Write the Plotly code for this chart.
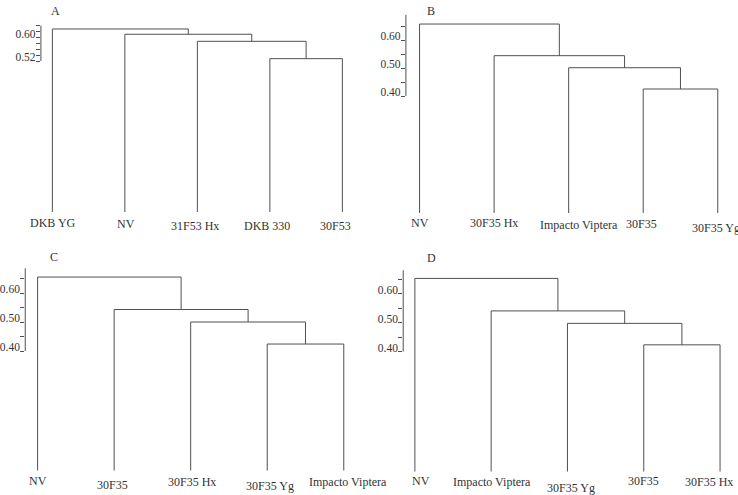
import plotly.graph_objects as go

W, H = 738, 495

# ---------------- data ----------------
leaves_A = ["DKB YG", "NV", "31F53 Hx", "DKB 330", "30F53"]
heights_A = [0.629, 0.611, 0.587, 0.528]          # merge heights, top merge first
leaves_B = ["NV", "30F35 Hx", "Impacto Viptera", "30F35", "30F35 Yg"]
heights_B = [0.657, 0.544, 0.501, 0.425]
leaves_C = ["NV", "30F35", "30F35 Hx", "30F35 Yg", "Impacto Viptera"]
heights_C = [0.655, 0.543, 0.500, 0.424]
leaves_D = ["NV", "Impacto Viptera", "30F35 Yg", "30F35", "30F35 Hx"]
heights_D = [0.652, 0.540, 0.497, 0.423]

# tree structure (scipy-like linkage, bottom-up): children ids; leaves 0..4, nodes 5..8
linkage_pairs = [(3, 4), (2, 5), (1, 6), (0, 7)]

tickvals_A = [0.52, 0.54, 0.56, 0.58, 0.60, 0.62, 0.64]
ticktext_A = ["0.52", "", "", "", "0.60", "", ""]
tickvals_BCD = [0.40, 0.45, 0.50, 0.55, 0.60, 0.65]
ticktext_BCD = ["0.40", "", "0.50", "", "0.60", ""]

panel_letters = ["A", "B", "C", "D"]

# ---------------- style / layout geometry (pixels) ----------------
LINE = "#505050"
TXT = "#333333"
FONT = "Liberation Serif, Times New Roman, serif"

panels = [
    dict(name="A", leaves=leaves_A, heights=heights_A, tv=tickvals_A, tt=ticktext_A,
         axis_px=39, leaf0=50.5, sp=72.7, right=365, p0=213.9, s=294, bottom=212,
         axis_span=(0.52, 0.64), letter=(53.3, 11),
         dx=[0.5, 1, -2, -2.6, -7.3], ly=[223.3, 224.3, 226, 225.7, 225.7]),
    dict(name="B", leaves=leaves_B, heights=heights_B, tv=tickvals_BCD, tt=ticktext_BCD,
         axis_px=405, leaf0=418.7, sp=74.75, right=737, p0=208, s=280, bottom=213,
         axis_span=(0.40, 0.69), letter=(430, 11),
         dx=[0, 0, 10.5, -1.3, -1.7], ly=[223.3, 223.3, 224.7, 223.7, 227.7]),
    dict(name="C", leaves=leaves_C, heights=heights_C, tv=tickvals_BCD, tt=ticktext_BCD,
         axis_px=23.3, leaf0=35.7, sp=76.75, right=365, p0=467, s=290, bottom=470.7,
         axis_span=(0.40, 0.685), letter=(52.3, 257.3),
         dx=[0, -2, 1.3, 3, 4.3], ly=[481, 485, 481.7, 486, 481.7]),
    dict(name="D", leaves=leaves_D, heights=heights_D, tv=tickvals_BCD, tt=ticktext_BCD,
         axis_px=402.3, leaf0=414, sp=76.5, right=737, p0=467.5, s=290, bottom=471.7,
         axis_span=(0.40, 0.68), letter=(430.7, 257.7),
         dx=[6, 1, 3.5, -0.7, -10.8], ly=[481, 481.7, 488.3, 481, 481.7]),
]

fig = go.Figure()
annotations = []
shapes = []
layout_axes = {}

for k, p in enumerate(panels):
    idx = "" if k == 0 else str(k + 1)
    xa, ya = "x" + idx, "y" + idx
    ymin = (p["p0"] - p["bottom"]) / p["s"]
    ymax = 0.70
    top_px = p["p0"] - p["s"] * ymax

    # dendrogram geometry from linkage
    n = len(p["leaves"])
    xs = {i: float(i) for i in range(n)}
    ys = {i: ymin for i in range(n)}
    hs_bottom_up = list(reversed(p["heights"]))
    lx, ly = [], []
    for m, (a, b) in enumerate(linkage_pairs):
        h = hs_bottom_up[m]
        lx += [xs[a], xs[a], xs[b], xs[b], None]
        ly += [ys[a], h, h, ys[b], None]
        node = n + m
        xs[node] = (xs[a] + xs[b]) / 2
        ys[node] = h

    fig.add_trace(go.Scatter(x=lx, y=ly, mode="lines", xaxis=xa, yaxis=ya,
                             line=dict(color=LINE, width=1), hoverinfo="skip",
                             showlegend=False, cliponaxis=False))

    xmin = (p["axis_px"] - p["leaf0"]) / p["sp"]
    xmax = (p["right"] - p["leaf0"]) / p["sp"]
    layout_axes["xaxis" + idx] = dict(
        domain=[p["axis_px"] / W, p["right"] / W], range=[xmin, xmax],
        visible=False, anchor=ya, fixedrange=True)
    layout_axes["yaxis" + idx] = dict(
        domain=[1 - p["bottom"] / H, 1 - top_px / H], range=[ymin, ymax],
        anchor=xa, showgrid=False, zeroline=False, showline=False,
        ticks="outside", ticklen=4, tickwidth=1, tickcolor=LINE,
        tickvals=p["tv"], ticktext=p["tt"], ticklabelshift=-4, ticklabelstandoff=-2,
        tickfont=dict(family=FONT, size=11.5, color=TXT), fixedrange=True)

    shapes.append(dict(type="line", xref=xa + " domain", yref=ya, x0=0, x1=0,
                       y0=p["axis_span"][0], y1=p["axis_span"][1],
                       line=dict(color=LINE, width=1)))

    for i, lab in enumerate(p["leaves"]):
        annotations.append(dict(text=lab, xref=xa, yref="paper", x=i, xshift=p["dx"][i],
                                y=1 - p["ly"][i] / H, xanchor="center", yanchor="middle",
                                showarrow=False, font=dict(family=FONT, size=12, color=TXT)))

    annotations.append(dict(text=panel_letters[k], xref="paper", yref="paper",
                            x=p["letter"][0] / W, y=1 - p["letter"][1] / H,
                            xanchor="center", yanchor="middle", showarrow=False,
                            font=dict(family=FONT, size=12, color=TXT)))

fig.update_layout(width=W, height=H, margin=dict(l=0, r=0, t=0, b=0),
                  paper_bgcolor="white", plot_bgcolor="white", showlegend=False,
                  annotations=annotations, shapes=shapes, **layout_axes)

fig.write_html("out.html", config={"displayModeBar": False})
